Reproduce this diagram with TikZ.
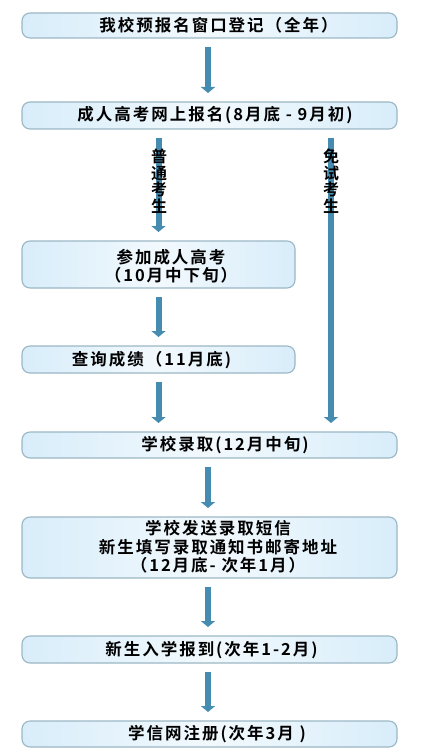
\documentclass[tikz,border=0pt]{standalone}
\usepackage{fontspec}
\setmainfont{Noto Sans CJK SC}[BoldFont={Noto Sans CJK SC Bold}]
\newfontfamily\cjk{Noto Sans CJK SC Bold}[LetterSpace=12]
\usetikzlibrary{arrows.meta,calc}
\definecolor{boxblue}{RGB}{216,237,250}
\definecolor{boxmid}{RGB}{242,249,253}
\definecolor{boxline}{RGB}{155,183,196}
\definecolor{arrblue}{RGB}{70,140,176}
\tikzset{
  flowbox/.style={draw=boxline, line width=1.1pt, rounded corners=8pt,
    left color=boxblue, right color=boxblue, middle color=boxmid,
    inner sep=0pt, outer sep=0pt},
  label/.style={font=\cjk\fontsize{16.5pt}{18.5pt}\selectfont, text=black, align=center, inner sep=0pt},
  vlabel/.style={font=\cjk\fontsize{16pt}{16.5pt}\selectfont, text=black, align=center, inner sep=0pt},
  flowarr/.style={draw=arrblue, line width=6pt,
    -{Triangle[width=14pt,length=6pt]}, shorten <=9pt, shorten >=9pt},
}
\begin{document}
\begin{tikzpicture}[x=1pt,y=-1pt]
\useasboundingbox (0,0) rectangle (431,754);
% boxes
\node[flowbox, minimum width=375pt, minimum height=25pt] (b1) at (209.5,25.5) {};
\node[flowbox, minimum width=375pt, minimum height=27pt] (b2) at (209.5,115.5) {};
\node[flowbox, minimum width=273pt, minimum height=47pt] (b3) at (158.5,264.5) {};
\node[flowbox, minimum width=273pt, minimum height=27pt] (b4) at (158.5,359.5) {};
\node[flowbox, minimum width=375pt, minimum height=26pt] (b5) at (209.5,445) {};
\node[flowbox, minimum width=375pt, minimum height=61pt] (b6) at (209.5,547.5) {};
\node[flowbox, minimum width=375pt, minimum height=27pt] (b7) at (209.5,649.5) {};
\node[flowbox, minimum width=375pt, minimum height=26pt] (b8) at (209.5,734) {};
% texts
\node[label] (t1) at (218.5,25.5) {我校预报名窗口登记（全年）};
\node[label] (t2) at (215,115.5) {成人高考网上报名(8月底 - 9月初)};
\node[label] (t3) at (171,266) {参加成人高考\\（10月中下旬）};
\node[label] (t4) at (151.5,360) {查询成绩（11月底)};
\node[label] (t5) at (225,445) {学校录取(12月中旬)};
\node[label] (t6) at (218,547) {学校发送录取短信\\新生填写录取通知书邮寄地址\\（12月底- 次年1月）};
\node[label] (t7) at (211.5,650) {新生入学报到(次年1-2月)};
\node[label] (t8) at (217,734) {学信网注册(次年3月 )};
% arrow columns
\coordinate (cm) at (208,0);
\coordinate (cr) at (331,0);
\draw[flowarr] (b1.south -| cm) -- (b2.north -| cm);
\draw[flowarr] (b2.south -| b3.north) -- (b3.north);
\draw[flowarr] (b3.south) -- (b4.north);
\draw[flowarr] (b4.south) -- (b5.north -| b4.south);
\draw[flowarr] (b2.south -| cr) -- (b5.north -| cr);
\draw[flowarr] (b5.south -| cm) -- (b6.north -| cm);
\draw[flowarr] (b6.south -| cm) -- (b7.north -| cm);
\draw[flowarr] (b7.south -| cm) -- (b8.north -| cm);
% vertical labels
\node[vlabel] (l1) at (159,181) {普\\通\\考\\生};
\node[vlabel] (l2) at (331,181) {免\\试\\考\\生};
\end{tikzpicture}
\end{document}
